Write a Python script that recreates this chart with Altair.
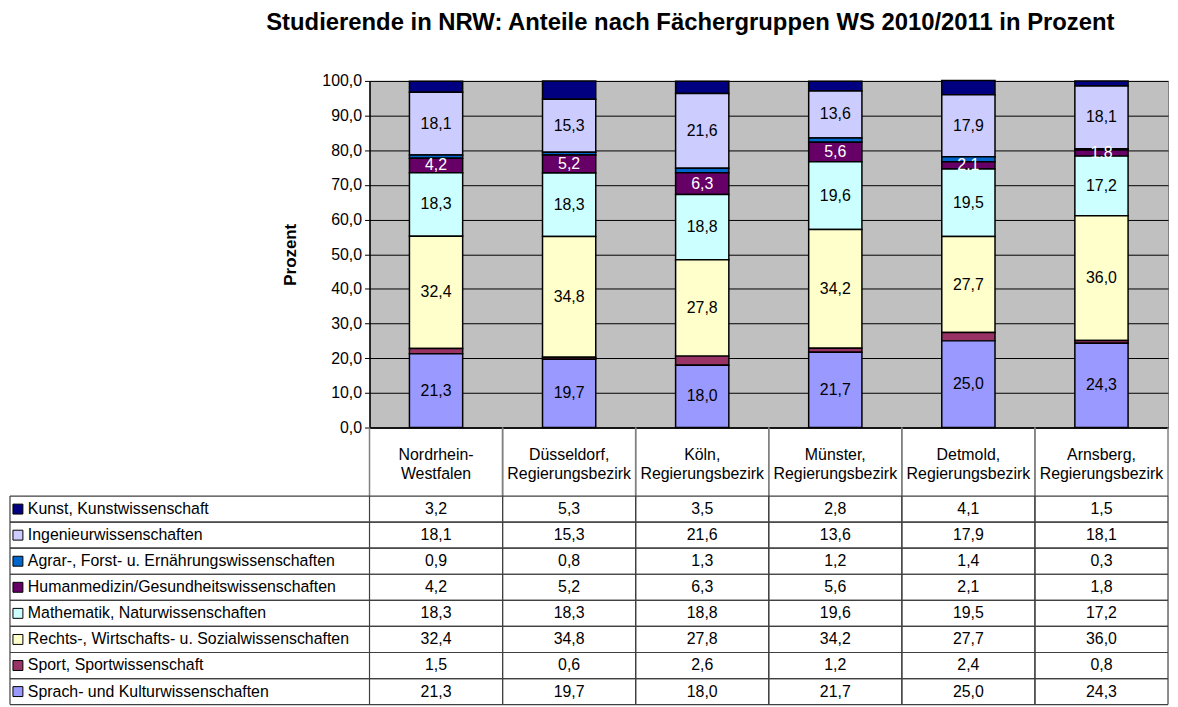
import altair as alt
import pandas as pd

# ---------------- data ----------------
regions = ["Nordrhein-Westfalen", "Düsseldorf", "Köln", "Münster", "Detmold", "Arnsberg"]
region_headers = [
    "Nordrhein-\nWestfalen",
    "Düsseldorf,\nRegierungsbezirk",
    "Köln,\nRegierungsbezirk",
    "Münster,\nRegierungsbezirk",
    "Detmold,\nRegierungsbezirk",
    "Arnsberg,\nRegierungsbezirk",
]
fields = [
    "Kunst, Kunstwissenschaft",
    "Ingenieurwissenschaften",
    "Agrar-, Forst- u. Ernährungswissenschaften",
    "Humanmedizin/Gesundheitswissenschaften",
    "Mathematik, Naturwissenschaften",
    "Rechts-, Wirtschafts- u. Sozialwissenschaften",
    "Sport, Sportwissenschaft",
    "Sprach- und Kulturwissenschaften",
]
colors = ["#000080", "#CCCCFF", "#0066CC", "#660066", "#CCFFFF", "#FFFFCC", "#993366", "#9999FF"]

kunst = [3.2, 5.3, 3.5, 2.8, 4.1, 1.5]
ingenieur = [18.1, 15.3, 21.6, 13.6, 17.9, 18.1]
agrar = [0.9, 0.8, 1.3, 1.2, 1.4, 0.3]
humanmedizin = [4.2, 5.2, 6.3, 5.6, 2.1, 1.8]
mathematik = [18.3, 18.3, 18.8, 19.6, 19.5, 17.2]
rechts = [32.4, 34.8, 27.8, 34.2, 27.7, 36.0]
sport = [1.5, 0.6, 2.6, 1.2, 2.4, 0.8]
sprach = [21.3, 19.7, 18.0, 21.7, 25.0, 24.3]

series = [kunst, ingenieur, agrar, humanmedizin, mathematik, rechts, sport, sprach]
unlabelled = {fields[0], fields[2], fields[6]}
white_labels = {fields[3]}
y_ticks = [0, 10, 20, 30, 40, 50, 60, 70, 80, 90, 100]

rows = []
for i, (f, vals) in enumerate(zip(fields, series)):
    for r, v in zip(regions, vals):
        rows.append({
            "region": r,
            "field": f,
            "value": v,
            "ord": len(fields) - 1 - i,
            "show": f not in unlabelled,
            "tcolor": "white" if f in white_labels else "black",
        })
df = pd.DataFrame(rows)
hdr_df = pd.DataFrame({"region": regions, "header": region_headers})
leg_df = pd.DataFrame({"field": fields})
one_df = pd.DataFrame({"a": [0]})

FONT = "Liberation Sans"
LINE = "#404040"
FMT = "replace(format(datum.value, '.1f'), '.', ',')"

W = 804
H_TOP = 349
H_HDR = 69
H_TAB = 210
LEFT = -362

# ---------------- top chart ----------------
base = alt.Chart(df).transform_stack(
    stack="value",
    groupby=["region"],
    sort=[alt.SortField("ord", order="ascending")],
    as_=["y0", "y1"],
).transform_calculate(
    mid="(datum.y0 + datum.y1) / 2",
    lab=FMT,
)

x_axis = alt.Axis(labels=False, ticks=False, title=None, grid=False,
                  domainColor="black", domainWidth=1.5)
y_axis = alt.Axis(
    values=y_ticks,
    tickCount=20,
    labelOverlap=False,
    labelExpr=FMT,
    title="Prozent",
    titleFontSize=17,
    titleFontWeight="bold",
    titlePadding=22,
    labelFontSize=16,
    labelColor="black",
    labelPadding=3,
    tickSize=5,
    tickColor="black",
    domainColor="black",
    domainWidth=1.5,
    grid=True,
    gridColor="black",
    gridWidth=1,
)
x_scale = alt.Scale(paddingInner=0.6, paddingOuter=0.3)
y_scale = alt.Scale(domain=[0, 100], nice=False)

bars = base.mark_bar(stroke="black", strokeWidth=1.5).encode(
    x=alt.X("region:N", sort=regions, scale=x_scale, axis=x_axis),
    y=alt.Y("y0:Q", scale=y_scale, axis=y_axis),
    y2="y1:Q",
    color=alt.Color("field:N", scale=alt.Scale(domain=fields, range=colors), legend=None),
)
labels = base.transform_filter("datum.show").mark_text(fontSize=16).encode(
    x=alt.X("region:N", sort=regions, scale=x_scale, axis=x_axis),
    y=alt.Y("mid:Q", scale=y_scale, axis=y_axis),
    text="lab:N",
    color=alt.Color("tcolor:N", scale=None),
)
top = alt.layer(bars, labels).properties(
    width=W, height=H_TOP,
    view=alt.ViewBackground(fill="#C0C0C0", stroke="#808080"),
)

# ---------------- header row ----------------
hx_scale = alt.Scale(paddingInner=0, paddingOuter=0)
hdr_text = alt.Chart(hdr_df).mark_text(fontSize=16, lineBreak="\n", baseline="middle", lineHeight=19).encode(
    x=alt.X("region:N", sort=regions, scale=hx_scale, axis=None),
    y=alt.value(28),
    text="header:N",
)
hdr_l = alt.Chart(hdr_df).mark_rule(color="#808080", strokeWidth=1.5).encode(
    x=alt.X("region:N", sort=regions, scale=hx_scale, axis=None, bandPosition=0),
    y=alt.value(0), y2=alt.value(H_HDR),
)
hdr_r = alt.Chart(hdr_df).mark_rule(color="#808080", strokeWidth=1.5).encode(
    x=alt.X("region:N", sort=regions, scale=hx_scale, axis=None, bandPosition=1),
    y=alt.value(0), y2=alt.value(H_HDR),
)
header = alt.layer(hdr_l, hdr_r, hdr_text).properties(
    width=W, height=H_HDR, view=alt.ViewBackground(stroke="transparent"),
)

# ---------------- data table ----------------
ty_scale = alt.Scale(paddingInner=0, paddingOuter=0)
cells = alt.Chart(df).transform_calculate(lab=FMT).mark_text(fontSize=16).encode(
    x=alt.X("region:N", sort=regions, scale=hx_scale, axis=None),
    y=alt.Y("field:N", sort=fields, scale=ty_scale, axis=None),
    text="lab:N",
)
h_top = alt.Chart(leg_df).mark_rule(color=LINE, strokeWidth=1.2).encode(
    y=alt.Y("field:N", sort=fields, scale=ty_scale, axis=None, bandPosition=0),
    x=alt.value(LEFT), x2=alt.value(W),
)
h_bot = alt.Chart(leg_df).mark_rule(color=LINE, strokeWidth=1.2).encode(
    y=alt.Y("field:N", sort=fields, scale=ty_scale, axis=None, bandPosition=1),
    x=alt.value(LEFT), x2=alt.value(W),
)
v_l = alt.Chart(hdr_df).mark_rule(color=LINE, strokeWidth=1.2).encode(
    x=alt.X("region:N", sort=regions, scale=hx_scale, axis=None, bandPosition=0),
    y=alt.value(0), y2=alt.value(H_TAB),
)
v_r = alt.Chart(hdr_df).mark_rule(color=LINE, strokeWidth=1.2).encode(
    x=alt.X("region:N", sort=regions, scale=hx_scale, axis=None, bandPosition=1),
    y=alt.value(0), y2=alt.value(H_TAB),
)
v_left = alt.Chart(one_df).mark_rule(color=LINE, strokeWidth=1.2).encode(
    x=alt.value(LEFT), y=alt.value(0), y2=alt.value(H_TAB),
)
squares = alt.Chart(leg_df).mark_point(
    shape="square", filled=True, size=100, stroke="black", strokeWidth=1, opacity=1
).encode(
    x=alt.value(LEFT + 8),
    y=alt.Y("field:N", sort=fields, scale=ty_scale, axis=None),
    color=alt.Color("field:N", scale=alt.Scale(domain=fields, range=colors), legend=None),
)
leg_text = alt.Chart(leg_df).mark_text(fontSize=16, align="left").encode(
    x=alt.value(LEFT + 18),
    y=alt.Y("field:N", sort=fields, scale=ty_scale, axis=None),
    text="field:N",
)
table = alt.layer(h_top, h_bot, v_l, v_r, v_left, squares, leg_text, cells).properties(
    width=W, height=H_TAB, view=alt.ViewBackground(stroke="transparent"),
)

chart = alt.vconcat(top, header, table, spacing=0, bounds="flush").resolve_scale(
    x="independent", y="independent", color="independent"
).properties(
    padding=0,
    title=alt.Title(
        "Studierende in NRW: Anteile nach Fächergruppen WS 2010/2011 in Prozent",
        fontSize=24, fontWeight="bold", anchor="middle", dx=102, offset=38, color="black",
    ),
).configure(font=FONT)

chart.save("out.html", embed_options={"renderer": "svg", "actions": False})
